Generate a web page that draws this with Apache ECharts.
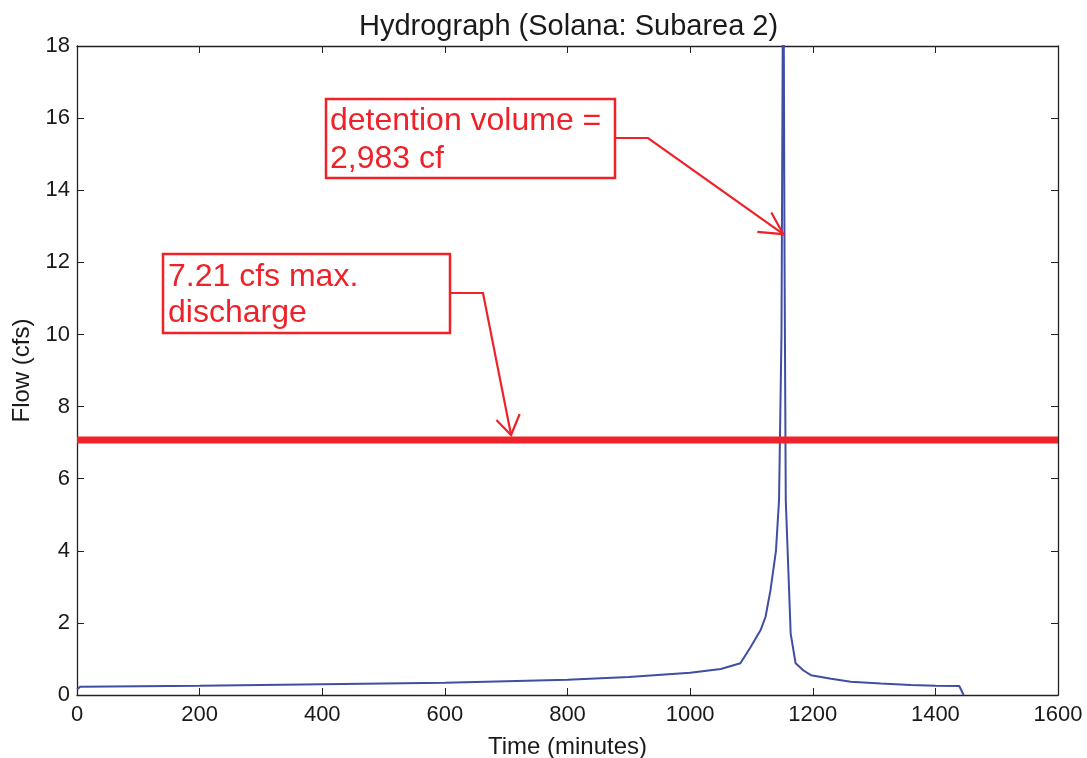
<!DOCTYPE html>
<html>
<head>
<meta charset="utf-8">
<script src="https://cdn.jsdelivr.net/npm/echarts@6/dist/echarts.min.js"></script>
<style>html,body{margin:0;padding:0;background:#fff}#c{width:1087px;height:758px}</style>
</head>
<body>
<div id="c"></div>
<script>
// ---- data ----
const timeMin = [0, 5, 200, 400, 600, 800, 900, 1000, 1050, 1082, 1099, 1115, 1123, 1131, 1140, 1145, 1149, 1152, 1154, 1156, 1164, 1172, 1185, 1197, 1230, 1262, 1311, 1360, 1400, 1439, 1446];
const flowCfs = [0.15, 0.23, 0.26, 0.30, 0.34, 0.42, 0.50, 0.62, 0.72, 0.88, 1.34, 1.8, 2.17, 2.9, 4.0, 5.4, 10.0, 22.0, 12.0, 5.4, 1.7, 0.88, 0.68, 0.55, 0.45, 0.37, 0.32, 0.28, 0.26, 0.25, 0.0];
const maxDischargeLevel = 7.07;
const maxDischargeSpan = [0, 1600];
const xTicks = [0, 200, 400, 600, 800, 1000, 1200, 1400, 1600];
const yTicks = [0, 2, 4, 6, 8, 10, 12, 14, 16, 18];
const titleText = 'Hydrograph (Solana: Subarea 2)';
const xName = 'Time (minutes)';
const yName = 'Flow (cfs)';
const noteVolume = ['detention volume =', '2,983 cf'];
const noteDischarge = ['7.21 cfs max.', 'discharge'];
const noteVolumeTip = [1152, 12.78];
const noteDischargeTip = [708, 7.21];

const FONT = 'Liberation Sans, Arial, sans-serif';
const RED = '#ee2228';
const chart = echarts.init(document.getElementById('c'), null, {renderer: 'canvas'});

const curve = timeMin.map((t, i) => [t, flowCfs[i]]);
const hline = maxDischargeSpan.map(t => [t, maxDischargeLevel]);
const plain = v => String(v);

function axisBase(extra) {
  return Object.assign({
    type: 'value',
    splitLine: {show: false},
    axisLine: {show: true, onZero: false, lineStyle: {color: '#222', width: 1.3}},
    axisTick: {show: true, inside: true, length: 7, lineStyle: {color: '#222', width: 1}},
  }, extra);
}

chart.setOption({
  animation: false,
  backgroundColor: '#fff',
  title: {
    text: titleText, left: 359, top: 12, padding: 0,
    textStyle: {fontFamily: FONT, fontSize: 29, fontWeight: 'normal', color: '#1a1a1a'}
  },
  grid: {left: 77, right: 29, top: 46, bottom: 63, containLabel: false, outerBoundsMode: 'none', show: false},
  xAxis: [
    axisBase({min: xTicks[0], max: xTicks[xTicks.length - 1], interval: 200, position: 'bottom',
      name: xName, nameLocation: 'middle', nameGap: 40,
      nameTextStyle: {fontFamily: FONT, fontSize: 24, color: '#1a1a1a'},
      axisLabel: {fontFamily: FONT, fontSize: 22, color: '#1a1a1a', margin: 9, formatter: plain}}),
    axisBase({min: xTicks[0], max: xTicks[xTicks.length - 1], interval: 200, position: 'top',
      axisLabel: {show: false}})
  ],
  yAxis: [
    axisBase({min: yTicks[0], max: yTicks[yTicks.length - 1], interval: 2, position: 'left',
      name: yName, nameLocation: 'middle', nameGap: 43, nameRotate: 90,
      nameTextStyle: {fontFamily: FONT, fontSize: 24, color: '#1a1a1a'},
      axisLabel: {fontFamily: FONT, fontSize: 22, color: '#1a1a1a', margin: 7, formatter: plain}}),
    axisBase({min: yTicks[0], max: yTicks[yTicks.length - 1], interval: 2, position: 'right',
      axisLabel: {show: false}})
  ],
  series: [
    {type: 'line', data: hline, xAxisIndex: 0, yAxisIndex: 0, symbol: 'none', clip: true,
      lineStyle: {color: RED, width: 7}, z: 3},
    {type: 'line', data: curve, xAxisIndex: 0, yAxisIndex: 0, symbol: 'none', clip: true,
      lineStyle: {color: '#3f4ea3', width: 2}, z: 2}
  ]
});

function arrow(tipData, elbow, start, wings) {
  const tip = chart.convertToPixel({gridIndex: 0}, tipData);
  return [
    {type: 'polyline', shape: {points: [start, elbow, tip]}, style: {stroke: RED, lineWidth: 2.2, fill: null}, z: 10},
    {type: 'polyline', shape: {points: [[tip[0] + wings[0][0], tip[1] + wings[0][1]], tip, [tip[0] + wings[1][0], tip[1] + wings[1][1]]]},
      style: {stroke: RED, lineWidth: 2.2, fill: null}, z: 10}
  ];
}

const g = [];
// box 1
g.push({type: 'rect', shape: {x: 326, y: 99, width: 289, height: 79}, style: {fill: '#fff', stroke: RED, lineWidth: 2.5}, z: 10});
g.push({type: 'text', x: 330, y: 102, style: {text: noteVolume.join('\n'), fill: RED, font: '32px ' + FONT, lineHeight: 38, verticalAlign: 'top'}, z: 11});
// box 2
g.push({type: 'rect', shape: {x: 163, y: 254, width: 287, height: 79}, style: {fill: '#fff', stroke: RED, lineWidth: 2.5}, z: 10});
g.push({type: 'text', x: 168, y: 259, style: {text: noteDischarge.join('\n'), fill: RED, font: '32px ' + FONT, lineHeight: 36, verticalAlign: 'top'}, z: 11});
g.push(...arrow(noteVolumeTip, [648, 138], [615, 138], [[-26, -2.3], [-12, -21.7]]));
g.push(...arrow(noteDischargeTip, [483, 293], [450, 293], [[-14.7, -15], [8.6, -21]]));

chart.setOption({graphic: g});
</script>
</body>
</html>
